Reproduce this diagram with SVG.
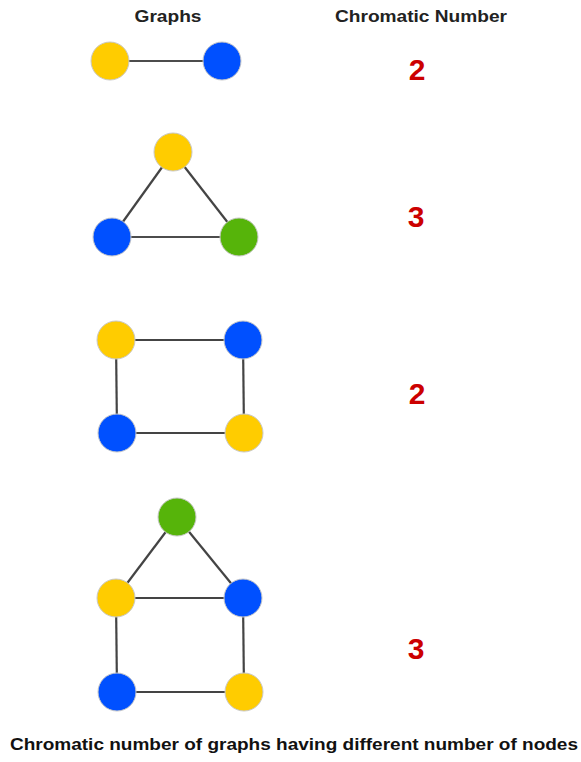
<svg xmlns="http://www.w3.org/2000/svg" width="581" height="762" viewBox="0 0 581 762">
<style>
.y{fill:#FFCC00}
.b{fill:#0050FF}
.g{fill:#56B40A}
circle{stroke:#c8c8c8;stroke-width:1}
.e{stroke:#444;stroke-width:2.2;fill:none}
.e1{stroke:#111;stroke-width:1.5}
.h{font-family:"Liberation Sans",Arial,sans-serif;font-weight:bold;font-size:17px;fill:#222;text-anchor:middle}
.n{font-family:"Liberation Sans",Arial,sans-serif;font-weight:bold;font-size:30px;fill:#CC0000;text-anchor:middle}
.c{font-family:"Liberation Sans",Arial,sans-serif;font-weight:bold;font-size:17px;fill:#111;text-anchor:middle}
</style>
<rect width="581" height="762" fill="#fff"/>
<text class="h" x="168" y="22" textLength="67" lengthAdjust="spacingAndGlyphs">Graphs</text>
<text class="h" x="421" y="22" textLength="172" lengthAdjust="spacingAndGlyphs">Chromatic Number</text>
<g id="connectors">
<line class="e1" x1="110" y1="61" x2="222" y2="61"/>
<line class="e" x1="173" y1="152" x2="112" y2="237"/>
<line class="e" x1="173" y1="152" x2="239" y2="237"/>
<line class="e1" x1="112" y1="237" x2="239" y2="237"/>
<line class="e" x1="116" y1="340" x2="243" y2="340"/>
<line class="e" x1="116" y1="340" x2="117" y2="433"/>
<line class="e" x1="243" y1="340" x2="244" y2="433"/>
<line class="e" x1="117" y1="433" x2="244" y2="433"/>
<line class="e" x1="177" y1="517" x2="116" y2="598"/>
<line class="e" x1="177" y1="517" x2="243" y2="598"/>
<line class="e" x1="116" y1="598" x2="243" y2="598"/>
<line class="e" x1="116" y1="598" x2="117" y2="692"/>
<line class="e" x1="243" y1="598" x2="244" y2="692"/>
<line class="e" x1="117" y1="692" x2="244" y2="692"/>
</g>
<g id="g1a"><circle class="y" cx="110" cy="61" r="19"/></g>
<g id="g1b"><circle class="b" cx="222" cy="61" r="19"/></g>
<g id="g2a"><circle class="y" cx="173" cy="152" r="19"/></g>
<g id="g2b"><circle class="b" cx="112" cy="237" r="19"/></g>
<g id="g2c"><circle class="g" cx="239" cy="237" r="19"/></g>
<g id="g3a"><circle class="y" cx="116" cy="340" r="19"/></g>
<g id="g3b"><circle class="b" cx="243" cy="340" r="19"/></g>
<g id="g3c"><circle class="b" cx="117" cy="433" r="19"/></g>
<g id="g3d"><circle class="y" cx="244" cy="433" r="19"/></g>
<g id="g4a"><circle class="g" cx="177" cy="517" r="19"/></g>
<g id="g4b"><circle class="y" cx="116" cy="598" r="19"/></g>
<g id="g4c"><circle class="b" cx="243" cy="598" r="19"/></g>
<g id="g4d"><circle class="b" cx="117" cy="692" r="19"/></g>
<g id="g4e"><circle class="y" cx="244" cy="692" r="19"/></g>
<text class="n" x="417" y="80">2</text>
<text class="n" x="416" y="227">3</text>
<text class="n" x="417" y="404">2</text>
<text class="n" x="416" y="659">3</text>
<text class="c" x="294" y="750" textLength="568" lengthAdjust="spacingAndGlyphs">Chromatic number of graphs having different number of nodes</text>
</svg>
